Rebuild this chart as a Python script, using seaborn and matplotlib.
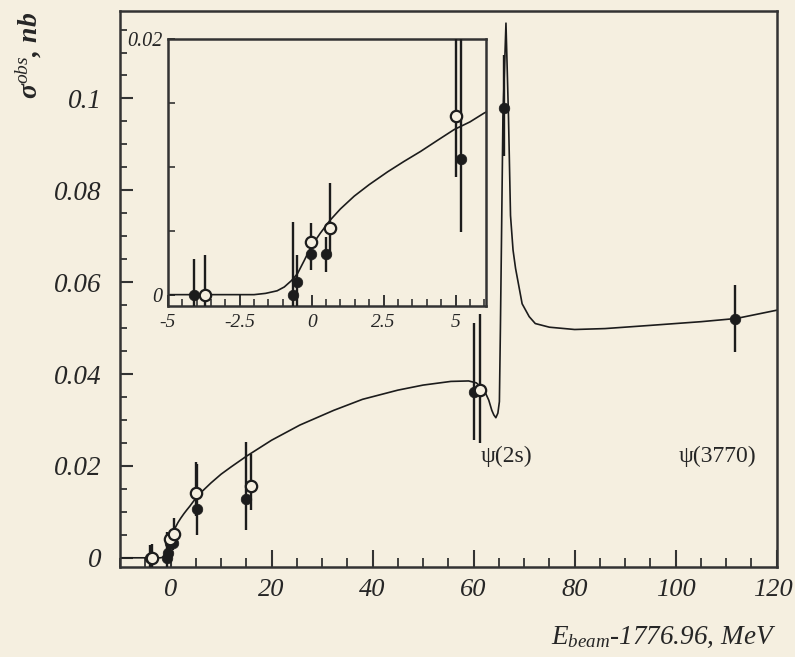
import matplotlib
matplotlib.use("Agg")
import matplotlib.pyplot as plt
import seaborn as sns
from matplotlib.ticker import MultipleLocator, FixedLocator, FixedFormatter

# ── data ────────────────────────────────────────────────────────────────────
# filled circles (x in MeV, sigma in nb, asymmetric errors)
filled_x = [-4.1, -0.65, -0.5, -0.02, 0.5, 5.2, 15.0, 60.1, 66.1, 111.8]
filled_y = [0.0, 0.0, 0.001, 0.0032, 0.0032, 0.0106, 0.0129, 0.0361, 0.0979, 0.0519]
filled_lo = [0.0028, 0.0057, 0.0021, 0.0013, 0.0014, 0.0057, 0.0069, 0.0105, 0.0105, 0.0071]
filled_hi = [0.0028, 0.0057, 0.0021, 0.0013, 0.0013, 0.0098, 0.0123, 0.0150, 0.0115, 0.0074]

# open circles
open_x = [-3.7, -0.02, 0.635, 5.0, 15.9, 61.2]
open_y = [0.0, 0.0041, 0.0052, 0.0140, 0.0156, 0.0365]
open_lo = [0.0031, 0.0015, 0.0022, 0.0048, 0.0052, 0.0116]
open_hi = [0.0031, 0.0015, 0.0035, 0.0069, 0.0071, 0.0166]

# fitted curve
curve_x = [-10, -2.0, -1.6, -1.2, -0.95, -0.7, -0.49, -0.25, -0.02, 0.3, 0.635,
           1.0, 1.48, 2.0, 2.64, 3.2, 3.79, 4.4, 4.95, 5.5, 6.0, 8.0, 10.0, 12.0,
           15.0, 20.0, 25.6, 32.3, 38.0, 45.0, 50.0, 55.5, 59.0, 60.5, 61.4, 62.3,
           63.0, 63.6, 64.0, 64.4, 64.8, 65.1, 65.3, 65.5, 65.8, 66.4, 66.9, 67.3,
           67.8, 68.3, 69.6, 71.0, 72.2, 75.0, 80.0, 86.0, 95.0, 105.0, 112.0, 120.0]
curve_y = [0.0, 0.0, 0.0001, 0.0003, 0.0006, 0.0011, 0.00165, 0.0027, 0.00375, 0.0048, 0.0058,
           0.0067, 0.0077, 0.0086, 0.0096, 0.0104, 0.0112, 0.0121, 0.0129, 0.0135, 0.0142, 0.0163, 0.0182, 0.0198,
           0.0221, 0.0256, 0.0289, 0.0321, 0.0345, 0.0365, 0.0376, 0.0384, 0.0385, 0.0381, 0.0373, 0.036,
           0.0343, 0.0321, 0.0311, 0.0305, 0.0315, 0.034, 0.050, 0.068, 0.096, 0.1164, 0.096, 0.0745,
           0.067, 0.063, 0.0553, 0.0525, 0.051, 0.0502, 0.0497, 0.0499, 0.0506, 0.0514, 0.0521, 0.0539]

main_xticks = [0, 20, 40, 60, 80, 100, 120]
main_xlabels = ["0", "20", "40", "60", "80", "100", ""]   # "120" drawn separately, nudged in
main_yticks = [0, 0.02, 0.04, 0.06, 0.08, 0.1]
main_ylabels = ["0", "0.02", "0.04", "0.06", "0.08", "0.1"]
inset_xticks = [-5, -2.5, 0, 2.5, 5]
inset_xlabels = ["-5", "-2.5", "0", "2.5", "5"]
inset_yticks = [0, 0.02]
inset_ylabels = ["0", "0.02"]

bg = "#f5efe0"
ink = "#1c1c1c"

sns.set_theme(style="ticks", rc={"figure.facecolor": bg, "axes.facecolor": bg,
                                 "axes.edgecolor": "#333333", "axes.linewidth": 1.8})
plt.rcParams["font.family"] = ["Liberation Serif", "DejaVu Serif"]
plt.rcParams["font.style"] = "italic"
plt.rcParams["mathtext.fontset"] = "custom"
plt.rcParams["mathtext.rm"] = "Liberation Serif"
plt.rcParams["mathtext.it"] = "Liberation Serif:italic"
plt.rcParams["mathtext.bf"] = "Liberation Serif:bold"


def draw(ax, ms):
    sns.lineplot(x=curve_x, y=curve_y, ax=ax, color=ink, lw=1.2, estimator=None, zorder=2)
    ax.errorbar(filled_x, filled_y, yerr=[filled_lo, filled_hi], fmt="none",
                ecolor=ink, elinewidth=1.7, capsize=0, zorder=3)
    ax.errorbar(open_x, open_y, yerr=[open_lo, open_hi], fmt="none",
                ecolor=ink, elinewidth=1.7, capsize=0, zorder=3)
    sns.scatterplot(x=filled_x, y=filled_y, ax=ax, color=ink, edgecolor=ink,
                    s=ms, linewidth=0.5, zorder=4)
    sns.scatterplot(x=open_x, y=open_y, ax=ax, color=bg, edgecolor=ink,
                    s=ms * 1.15, linewidth=1.6, zorder=5)


fig = plt.figure(figsize=(7.95, 6.57), dpi=100)

# ── main panel ──────────────────────────────────────────────────────────────
ax = fig.add_axes([0.151, 0.137, 0.826, 0.846])
draw(ax, 58)
ax.set_xlim(-10, 120)
ax.set_ylim(-0.002, 0.119)
ax.xaxis.set_major_locator(FixedLocator(main_xticks))
ax.xaxis.set_major_formatter(FixedFormatter(main_xlabels))
ax.xaxis.set_minor_locator(MultipleLocator(5))
ax.yaxis.set_major_locator(FixedLocator(main_yticks))
ax.yaxis.set_major_formatter(FixedFormatter(main_ylabels))
ax.yaxis.set_minor_locator(MultipleLocator(0.005))
ax.tick_params(axis="x", which="major", direction="in", length=12, width=1.5,
               labelsize=19, pad=9, color="#333333")
ax.tick_params(axis="x", which="minor", direction="in", length=6.5, width=1.3, color="#333333")
ax.tick_params(axis="y", which="major", direction="in", length=9.5, width=1.5,
               labelsize=19.5, pad=13, color="#333333")
ax.tick_params(axis="y", which="minor", direction="in", length=5, width=1.3, color="#333333")
ax.annotate("120", xy=(main_xticks[-1], 0), xycoords=("data", "axes fraction"),
            xytext=(-3, -9), textcoords="offset points", ha="center", va="top",
            fontsize=19, annotation_clip=False)

ax.text(61.4, 0.022, r"ψ(2s)", fontsize=17, style="normal", va="center", ha="left")
ax.text(100.6, 0.022, r"ψ(3770)", fontsize=17, style="normal", va="center", ha="left")

fig.text(0.977, 0.02, r"$E_{beam}$-1776.96, MeV", fontsize=19.5, ha="right", va="baseline")
fig.text(0.036, 0.916, r"$\mathbf{\sigma}^{obs}$, nb", fontsize=20, fontweight="bold",
         rotation=90, ha="center", va="center")

# ── inset ───────────────────────────────────────────────────────────────────
axi = fig.add_axes([0.211, 0.534, 0.400, 0.407])
draw(axi, 58)
axi.set_xlim(-5, 6.05)
axi.set_ylim(-0.0009, 0.02)
axi.xaxis.set_major_locator(FixedLocator(inset_xticks))
axi.xaxis.set_major_formatter(FixedFormatter(inset_xlabels))
axi.xaxis.set_minor_locator(MultipleLocator(0.5))
axi.yaxis.set_major_locator(FixedLocator(inset_yticks))
axi.yaxis.set_major_formatter(FixedFormatter(inset_ylabels))
axi.yaxis.set_minor_locator(MultipleLocator(0.005))
axi.tick_params(axis="x", which="major", direction="in", length=8, width=1.4,
                labelsize=14, pad=6, color="#333333")
axi.tick_params(axis="x", which="minor", direction="in", length=5, width=1.2, color="#333333")
axi.tick_params(axis="y", which="major", direction="in", length=5, width=1.4,
                labelsize=14.5, pad=4, color="#333333")
axi.tick_params(axis="y", which="minor", direction="in", length=5, width=1.2, color="#333333")

fig.savefig("out.png", dpi=100, facecolor=bg)
